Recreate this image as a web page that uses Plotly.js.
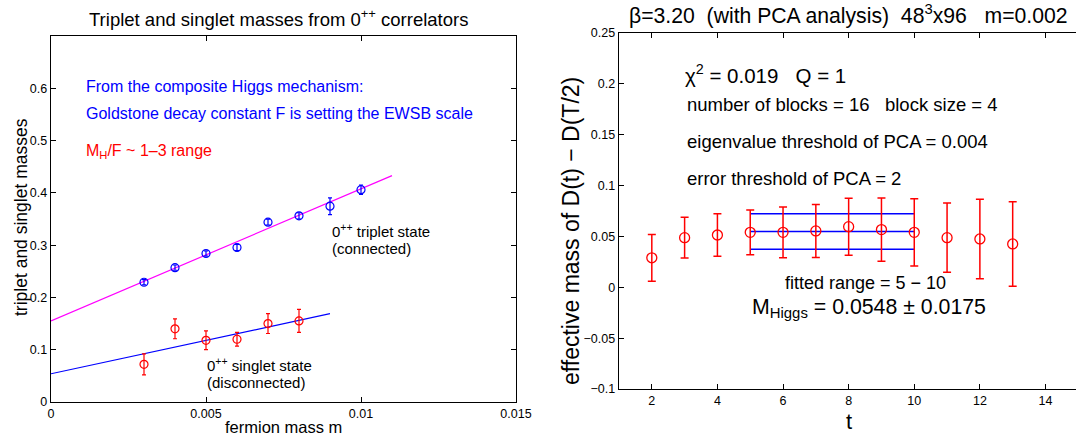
<!DOCTYPE html>
<html>
<head>
<meta charset="utf-8">
<script src="https://cdn.plot.ly/plotly-3.0.1.min.js"></script>
<style>html,body{margin:0;padding:0;background:#fff;}#plot{width:1076px;height:442px;}</style>
</head>
<body>
<div id="plot"></div>
<script>
// ---- Left panel data ----
var fermionMass = [0.003, 0.004, 0.005, 0.006, 0.007, 0.008, 0.009, 0.010];
var tripletMass = [0.229, 0.257, 0.284, 0.2955, 0.344, 0.356, 0.3745, 0.406];
var tripletErr  = [0.005, 0.005, 0.005, 0.006, 0.0055, 0.006, 0.016, 0.009];
var singletMassX = [0.003, 0.004, 0.005, 0.006, 0.007, 0.008];
var singletMass = [0.072, 0.140, 0.118, 0.120, 0.150, 0.155];
var singletErr  = [0.020, 0.019, 0.018, 0.013, 0.019, 0.022];
var tripletFitX = [0, 0.011];
var tripletFitY = [0.155, 0.433];
var singletFitX = [0, 0.009];
var singletFitY = [0.054, 0.169];
var leftXTicks = [0, 0.005, 0.01, 0.015];
var leftXTickText = ['0', '0.005', '0.01', '0.015'];
var leftYTicks = [0, 0.1, 0.2, 0.3, 0.4, 0.5, 0.6];
var leftYTickText = ['0', '0.1', '0.2', '0.3', '0.4', '0.5', '0.6'];

// ---- Right panel data ----
var tValues = [2, 3, 4, 5, 6, 7, 8, 9, 10, 11, 12, 13];
var effMass = [0.029, 0.0488, 0.0514, 0.054, 0.054, 0.0554, 0.0596, 0.0567, 0.054, 0.0488, 0.0475, 0.0426];
var effErr  = [0.023, 0.020, 0.021, 0.022, 0.025, 0.026, 0.028, 0.031, 0.033, 0.034, 0.039, 0.0415];
var fitRange = [5, 10];
var fitMass = 0.0548;
var fitErr = 0.0175;
var rightXTicks = [2, 4, 6, 8, 10, 12, 14];
var rightYTicks = [-0.1, -0.05, 0, 0.05, 0.1, 0.15, 0.2, 0.25];
var rightYTickText = ['\u22120.1', '\u22120.05', '0', '0.05', '0.1', '0.15', '0.2', '0.25'];

var FONT = "Liberation Sans, Arial, Helvetica, sans-serif";
var W = 1076, H = 442;
function px(x){ return x / W; }
function py(y){ return 1 - y / H; }

var traces = [
  {x: tripletFitX, y: tripletFitY, mode: 'lines', line: {color: '#ff00ff', width: 1.2}, xaxis: 'x', yaxis: 'y'},
  {x: singletFitX, y: singletFitY, mode: 'lines', line: {color: '#0000ff', width: 1.2}, xaxis: 'x', yaxis: 'y'},
  {x: fermionMass, y: tripletMass, mode: 'markers', xaxis: 'x', yaxis: 'y',
   marker: {symbol: 'circle-open', size: 8, color: '#0000ff', line: {width: 1.2}},
   error_y: {type: 'data', array: tripletErr, visible: true, color: '#0000ff', thickness: 1.2, width: 2}},
  {x: singletMassX, y: singletMass, mode: 'markers', xaxis: 'x', yaxis: 'y',
   marker: {symbol: 'circle-open', size: 8, color: '#ff0000', line: {width: 1.2}},
   error_y: {type: 'data', array: singletErr, visible: true, color: '#ff0000', thickness: 1.2, width: 2}},
  {x: fitRange, y: [fitMass + fitErr, fitMass + fitErr], mode: 'lines', line: {color: '#0000ff', width: 1.5}, xaxis: 'x2', yaxis: 'y2'},
  {x: fitRange, y: [fitMass, fitMass], mode: 'lines', line: {color: '#0000ff', width: 1.5}, xaxis: 'x2', yaxis: 'y2'},
  {x: fitRange, y: [fitMass - fitErr, fitMass - fitErr], mode: 'lines', line: {color: '#0000ff', width: 1.5}, xaxis: 'x2', yaxis: 'y2'},
  {x: tValues, y: effMass, mode: 'markers', xaxis: 'x2', yaxis: 'y2',
   marker: {symbol: 'circle-open', size: 10, color: '#ff0000', line: {width: 1.3}},
   error_y: {type: 'data', array: effErr, visible: true, color: '#ff0000', thickness: 1.5, width: 4}}
];

var axBase = {showgrid: false, zeroline: false, showline: true, linecolor: '#000', linewidth: 1.3,
  ticks: 'inside', ticklen: 5, tickcolor: '#000', tickfont: {family: FONT, size: 12.5, color: '#000'}};

function ann(text, x, y, size, color, xanchor, angle){
  return {text: text, xref: 'paper', yref: 'paper', x: px(x), y: py(y), xanchor: xanchor || 'left', yanchor: 'middle',
    textangle: angle || 0, showarrow: false, font: {family: FONT, size: size, color: color || '#000'}};
}

var layout = {
  width: W, height: H,
  margin: {l: 0, r: 0, t: 0, b: 0},
  paper_bgcolor: '#fff', plot_bgcolor: '#fff',
  showlegend: false,
  font: {family: FONT, color: '#000'},
  xaxis: Object.assign({}, axBase, {domain: [px(51), px(516)], range: [0, 0.015], anchor: 'y', mirror: 'ticks',
    tickvals: leftXTicks, ticktext: leftXTickText}),
  yaxis: Object.assign({}, axBase, {domain: [py(402), py(36)], range: [0, 0.7], anchor: 'x', mirror: 'ticks',
    tickvals: leftYTicks, ticktext: leftYTickText}),
  xaxis2: Object.assign({}, axBase, {domain: [px(619), 1], range: [1, 14.93], anchor: 'y2', mirror: 'ticks',
    tickvals: rightXTicks}),
  yaxis2: Object.assign({}, axBase, {domain: [py(389), py(33)], range: [-0.1, 0.25], anchor: 'x2', mirror: false,
    tickvals: rightYTicks, ticktext: rightYTickText}),
  annotations: [
    ann('Triplet and singlet masses from 0<sup>++</sup> correlators', 278, 18, 18.5, '#000', 'center'),
    ann('fermion mass m', 283, 427, 16.5, '#000', 'center'),
    ann('triplet and singlet masses', 21, 217, 17.5, '#000', 'center', -90),
    ann('From the composite Higgs mechanism:', 84, 87, 16, '#0000ff'),
    ann('Goldstone decay constant F is setting the EWSB scale', 84, 114, 16, '#0000ff'),
    ann('M<sub>H</sub>/F ~ 1\u20133 range', 84, 151, 16, '#ff0000'),
    ann('0<sup>++</sup> triplet state', 330, 230, 15),
    ann('(connected)', 330, 248, 15),
    ann('0<sup>++</sup> singlet state', 205, 364, 15),
    ann('(disconnected)', 205, 382, 15),
    ann('\u03b2=3.20  (with PCA analysis)  48<sup>3</sup>x96   m=0.002', 848, 15, 21.2, '#000', 'center'),
    ann('t', 849, 421, 22, '#000', 'center'),
    ann('effective mass of D(t) \u2212 D(T/2)', 571, 231, 23, '#000', 'center', -90),
    ann('\u03c7<sup>2</sup> = 0.019   Q = 1', 683, 74, 20.5),
    ann('number of blocks = 16   block size = 4', 685, 104, 18.5),
    ann('eigenvalue threshold of PCA = 0.004', 685, 141, 18.5),
    ann('error threshold of PCA = 2', 685, 178, 18.5),
    ann('fitted range = 5 \u2212 10', 865, 283, 18, '#000', 'center'),
    ann('M<sub>Higgs</sub> = 0.0548 \u00b1 0.0175', 750, 308, 21.3)
  ]
};

Plotly.newPlot('plot', traces, layout, {staticPlot: true, displayModeBar: false});
</script>
</body>
</html>
